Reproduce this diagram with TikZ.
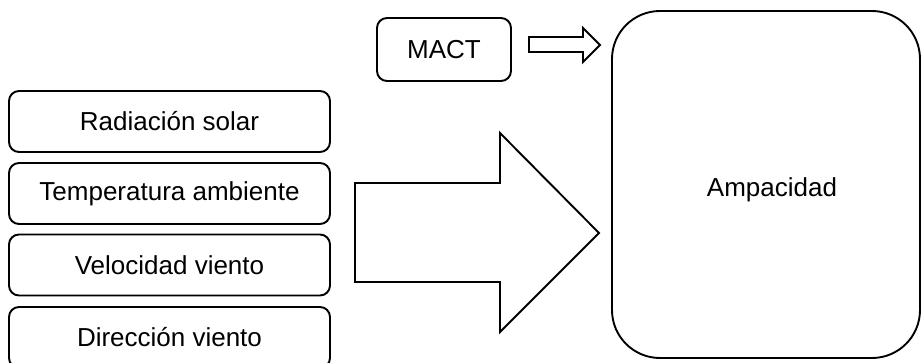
\documentclass[tikz,border=0pt]{standalone}
\usepackage{fontspec}
\setmainfont{Liberation Sans}
\begin{document}
\begin{tikzpicture}[x=1pt,y=-1pt,line width=1.9pt,
  inbox/.style={draw,rounded corners=10pt,minimum width=321pt,minimum height=61pt,inner sep=0pt,font=\fontsize{26}{30}\selectfont},
  bigbox/.style={draw,rounded corners=48pt,minimum width=308pt,minimum height=347pt,inner sep=0pt,font=\fontsize{26}{30}\selectfont},
  blockarrow/.style={draw,line join=miter,fill=white}]
\useasboundingbox (0,0) rectangle (922,362);
\node[inbox] (rad) at (169.5,121.5) {Radiación solar};
\node[inbox] (tem) at (169.5,193.5) {Temperatura ambiente};
\node[inbox] (vel) at (169.5,265) {Velocidad viento};
\node[inbox] (dir) at (169.5,337.5) {Dirección viento};
\node[inbox,minimum width=134pt,minimum height=63pt] (mact) at (444,49.5) {MACT};
\node[bigbox] (amp) at (766,184.5) {};
\node[font=\fontsize{26}{30}\selectfont] (amptext) at (772,190) {Ampacidad};
% small block arrow MACT -> Ampacidad
\draw[blockarrow] (529,37) -- (583,37) -- (583,28) -- (600,45) -- (583,62) -- (583,52) -- (529,52) -- cycle;
% big block arrow inputs -> Ampacidad
\draw[blockarrow] (355,183) -- (500,183) -- (500,133) -- (599,233) -- (500,332) -- (500,282) -- (355,282) -- cycle;
\end{tikzpicture}
\end{document}
